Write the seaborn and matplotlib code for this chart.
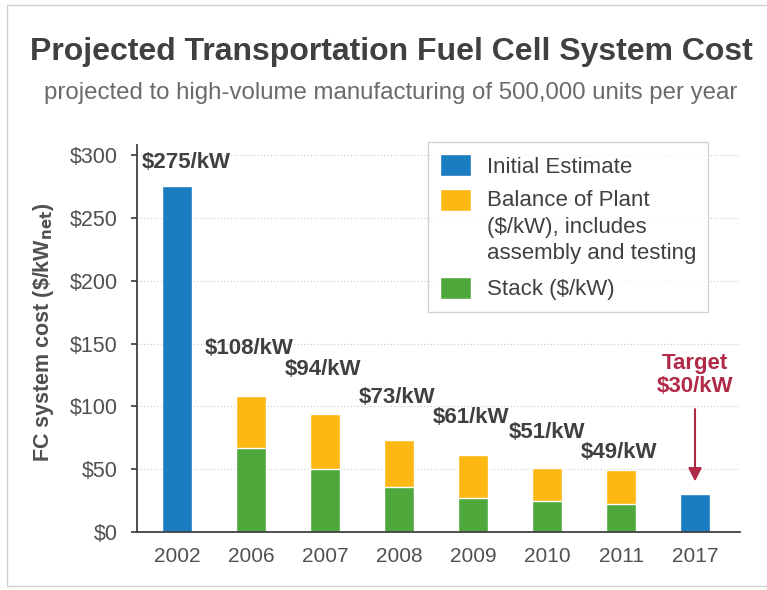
import pandas as pd
import seaborn as sns
import matplotlib.pyplot as plt
from matplotlib.patches import Patch

years = ["2002", "2006", "2007", "2008", "2009", "2010", "2011", "2017"]
initial = [275, 0, 0, 0, 0, 0, 0, 30]
stack = [0, 67, 50, 36, 27, 25, 22, 0]
bop = [0, 41, 44, 37, 34, 26, 27, 0]
cost_labels = ["$275/kW", "$108/kW", "$94/kW", "$73/kW", "$61/kW", "$51/kW", "$49/kW"]
label_x = [0.12, 0.97, 1.97, 2.97, 3.97, 5.0, 5.97]
label_y = [294, 146, 129, 107, 91, 79, 63]

blue = "#1a7dc2"
orange = "#fdb813"
green = "#4ea83c"
red = "#b02a48"
dark = "#404040"

df = pd.DataFrame({"year": years, "initial": initial, "stack": stack, "bop": bop})
df["total"] = df["stack"] + df["bop"]

sns.set_theme(style="white")
plt.rcParams["font.family"] = ["Liberation Sans", "DejaVu Sans"]

fig = plt.figure(figsize=(7.67, 5.9), dpi=100)
ax = fig.add_axes([0.1786, 0.0983, 0.7864, 0.656])

sns.barplot(data=df, x="year", y="total", color=orange, width=0.4, saturation=1, ax=ax)
sns.barplot(data=df, x="year", y="stack", color=green, width=0.4, saturation=1, ax=ax)
sns.barplot(data=df, x="year", y="initial", color=blue, width=0.4, saturation=1, ax=ax)

ax.set_xlim(-0.54, 7.61)
ax.set_ylim(0, 308)
ax.set_yticks(range(0, 301, 50))
ax.set_yticklabels([f"${v}" for v in range(0, 301, 50)])
ax.yaxis.grid(True, linestyle=(0, (1, 2)), color="#c8c8c8", linewidth=0.8)
ax.set_axisbelow(True)
ax.tick_params(axis="y", left=True, length=4, color=dark, labelsize=15.5, labelcolor="#505050", pad=10)
ax.tick_params(axis="x", bottom=False, labelsize=15, labelcolor="#505050", pad=5)
sns.despine(ax=ax, top=True, right=True)
for side in ["left", "bottom"]:
    ax.spines[side].set_color(dark)
    ax.spines[side].set_linewidth(1.3)
ax.set_xlabel("")
ax.set_ylabel(r"FC system cost (\$/kW$_{\mathbf{net}}$)", fontsize=15.5, fontweight="bold",
              color="#505050")
ax.yaxis.set_label_coords(-0.135, 0.515)

for x, y, t in zip(label_x, label_y, cost_labels):
    ax.text(x, y, t, ha="center", va="center", fontsize=16, fontweight="bold", color=dark)

ax.text(7.0, 125, "Target\n$30/kW", ha="center", va="center", fontsize=16,
        fontweight="bold", color=red, linespacing=1.15)
ax.annotate("", xy=(7.0, 38), xytext=(7.0, 100),
            arrowprops=dict(arrowstyle="-|>", color=red, lw=1.5, mutation_scale=20))

handles = [Patch(facecolor=blue), Patch(facecolor=orange), Patch(facecolor=green)]
names = ["Initial Estimate", "Balance of Plant\n($/kW), includes\nassembly and testing", "Stack ($/kW)"]
leg = fig.legend(handles, names, loc="upper left", bbox_to_anchor=(0.558, 0.759),
                 fontsize=16, frameon=True, fancybox=False, edgecolor="#c8c8c8",
                 handlelength=1.4, handleheight=1.15, handletextpad=0.7,
                 labelspacing=0.55, borderpad=0.55, borderaxespad=0)
leg.get_frame().set_linewidth(1.0)
for txt in leg.get_texts():
    txt.set_color(dark)
    txt.set_linespacing(1.35)
# put the orange swatch next to the first line of its label
bop_handle = leg.legend_handles[1]
bop_handle.set_y(bop_handle.get_y() + 20)

fig.text(0.51, 1 - 52 / 590, "Projected Transportation Fuel Cell System Cost",
         ha="center", va="center", fontsize=23, fontweight="bold", color=dark)
fig.text(0.51, 1 - 93 / 590, "projected to high-volume manufacturing of 500,000 units per year",
         ha="center", va="center", fontsize=17.3, color="#6a6a6a")

# light frame around the whole picture
fig.add_artist(plt.Line2D([7 / 767, 7 / 767], [4 / 590, 1 - 5 / 590], color="#d0d0d0", lw=1))
fig.add_artist(plt.Line2D([7 / 767, 1], [1 - 5 / 590, 1 - 5 / 590], color="#d0d0d0", lw=1))
fig.add_artist(plt.Line2D([7 / 767, 1], [4 / 590, 4 / 590], color="#d0d0d0", lw=1))

fig.savefig("out.png", dpi=100)
